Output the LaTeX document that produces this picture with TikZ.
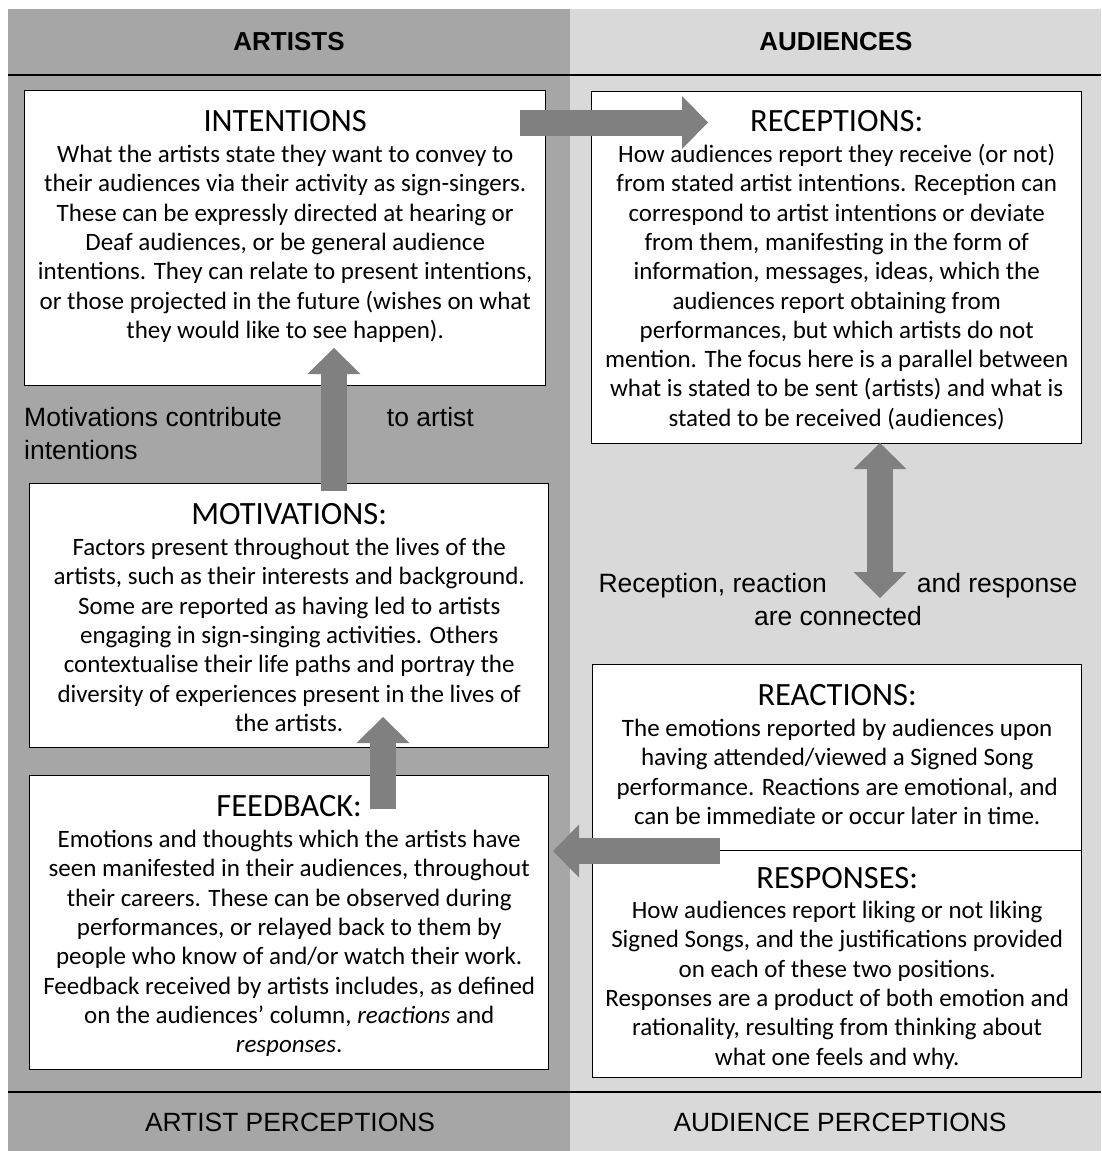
\documentclass[tikz,border=0pt]{standalone}
\usepackage{fontspec}
\setmainfont{Carlito}
\newfontfamily\arialfont{Liberation Sans}
\usetikzlibrary{arrows.meta, positioning}
\definecolor{artistgray}{HTML}{A6A6A6}
\definecolor{audiencegray}{HTML}{D9D9D9}
\definecolor{arrowgray}{HTML}{808080}
\newcommand{\cardtitle}[1]{{\fontsize{32.5}{36}\selectfont #1}}

\begin{document}
\begin{tikzpicture}[x=1pt, y=-1pt,
  card/.style={rectangle, draw=black, line width=1.4pt, fill=white,
               anchor=north west, inner sep=0pt},
  cardtext/.style={align=center, inner sep=0pt, font=\fontsize{25}{29.3}\selectfont},
  colhead/.style={font=\arialfont\bfseries\fontsize{26}{30}\selectfont},
  colfoot/.style={font=\arialfont\fontsize{26.4}{30}\selectfont},
  linktext/.style={font=\arialfont\fontsize{26.5}{33}\selectfont, inner sep=0pt},
  blockarrow/.style={line width=26pt, arrowgray,
               -{Triangle[length=26pt, width=53pt, line width=0pt]}},
  dblarrow/.style={line width=26pt, arrowgray,
               {Triangle[length=26pt, width=53pt, line width=0pt]}-{Triangle[length=26pt, width=53pt, line width=0pt]}}
]
  \useasboundingbox (0,0) rectangle (1101,1151);

  % two columns
  \fill[artistgray]   (8,9)   rectangle (570,1151);
  \fill[audiencegray] (570,9) rectangle (1101,1151);
  \draw[line width=2pt] (8,75) -- (1101,75);
  \draw[line width=2pt] (8,1092) -- (1101,1092);

  \node[colhead] (artists)   at (289,42)   {ARTISTS};
  \node[colhead] (audiences) at (836,42)   {AUDIENCES};
  \node[colfoot] (artistPer)   at (290,1122) {ARTIST PERCEPTIONS};
  \node[colfoot] (audiencePer) at (840,1122) {AUDIENCE PERCEPTIONS};

  % boxes
  \node[card, minimum width=521pt, minimum height=295pt] (intentions)  at (24,90)   {};
  \node[card, minimum width=490pt, minimum height=352pt] (receptions)  at (591,91)  {};
  \node[card, minimum width=519pt, minimum height=264pt] (motivations) at (29,483)  {};
  \node[card, minimum width=519pt, minimum height=294pt] (feedback)    at (29,775)  {};
  \node[card, minimum width=489pt, minimum height=186pt] (reactions)   at (592,664) {};
  \node[card, minimum width=489pt, minimum height=227pt] (responses)   at (592,850) {};

  \node[cardtext, below=20.5pt of intentions.north] (intentionsTxt) {\cardtitle{INTENTIONS}\\[1.5pt]
    What the artists state they want to convey to\\
    their audiences via their activity as sign-singers.\\
    These can be expressly directed at hearing or\\
    Deaf audiences, or be general audience\\
    intentions. They can relate to present intentions,\\
    or those projected in the future (wishes on what\\
    they would like to see happen).};
  \node[cardtext, below=19.5pt of receptions.north] (receptionsTxt) {\cardtitle{RECEPTIONS:}\\[1.5pt]
    How audiences report they receive (or not)\\
    from stated artist intentions. Reception can\\
    correspond to artist intentions or deviate\\
    from them, manifesting in the form of\\
    information, messages, ideas, which the\\
    audiences report obtaining from\\
    performances, but which artists do not\\
    mention. The focus here is a parallel between\\
    what is stated to be sent (artists) and what is\\
    stated to be received (audiences)};
  \node[cardtext, below=20.5pt of motivations.north] (motivationsTxt) {\cardtitle{MOTIVATIONS:}\\[1.5pt]
    Factors present throughout the lives of the\\
    artists, such as their interests and background.\\
    Some are reported as having led to artists\\
    engaging in sign-singing activities. Others\\
    contextualise their life paths and portray the\\
    diversity of experiences present in the lives of\\
    the artists.};
  \node[cardtext, below=20.5pt of feedback.north] (feedbackTxt) {\cardtitle{FEEDBACK:}\\[1.5pt]
    Emotions and thoughts which the artists have\\
    seen manifested in their audiences, throughout\\
    their careers. These can be observed during\\
    performances, or relayed back to them by\\
    people who know of and/or watch their work.\\
    Feedback received by artists includes, as defined\\
    on the audiences’ column, \textit{reactions} and\\
    \textit{responses}.};
  \node[cardtext, below=20.5pt of reactions.north] (reactionsTxt) {\cardtitle{REACTIONS:}\\[1.5pt]
    The emotions reported by audiences upon\\
    having attended/viewed a Signed Song\\
    performance. Reactions are emotional, and\\
    can be immediate or occur later in time.};
  \node[cardtext, below=17.5pt of responses.north] (responsesTxt) {\cardtitle{RESPONSES:}\\[0.5pt]
    How audiences report liking or not liking\\
    Signed Songs, and the justifications provided\\
    on each of these two positions.\\
    Responses are a product of both emotion and\\
    rationality, resulting from thinking about\\
    what one feels and why.};

  % link captions
  \node[linktext, anchor=north west, align=left] (motivLink) at (24,407)
    {Motivations contribute\hspace{105pt}to artist\\intentions};
  \node[linktext, anchor=north, align=center] (recepLink) at (838,573)
    {Reception, reaction\hspace{90pt}and response\\are connected};

  % block arrows
  \coordinate (intOut) at (520,122.5);
  \coordinate (recIn)  at (708,122.5);
  \coordinate (motOut) at (334,491);
  \coordinate (intIn)  at (334,348);
  \coordinate (fbOut)  at (383,809);
  \coordinate (motIn)  at (383,717);
  \coordinate (recLow) at (880,443);
  \coordinate (reaTop) at (880,598);
  \coordinate (resOut) at (720,851);
  \coordinate (fbIn)   at (553,851);

  \draw[blockarrow] (intOut) -- (recIn);
  \draw[blockarrow] (motOut) -- (intIn);
  \draw[blockarrow] (fbOut) -- (motIn);
  \draw[blockarrow] (resOut) -- (fbIn);
  \draw[dblarrow] (recLow) -- (reaTop);
\end{tikzpicture}
\end{document}
